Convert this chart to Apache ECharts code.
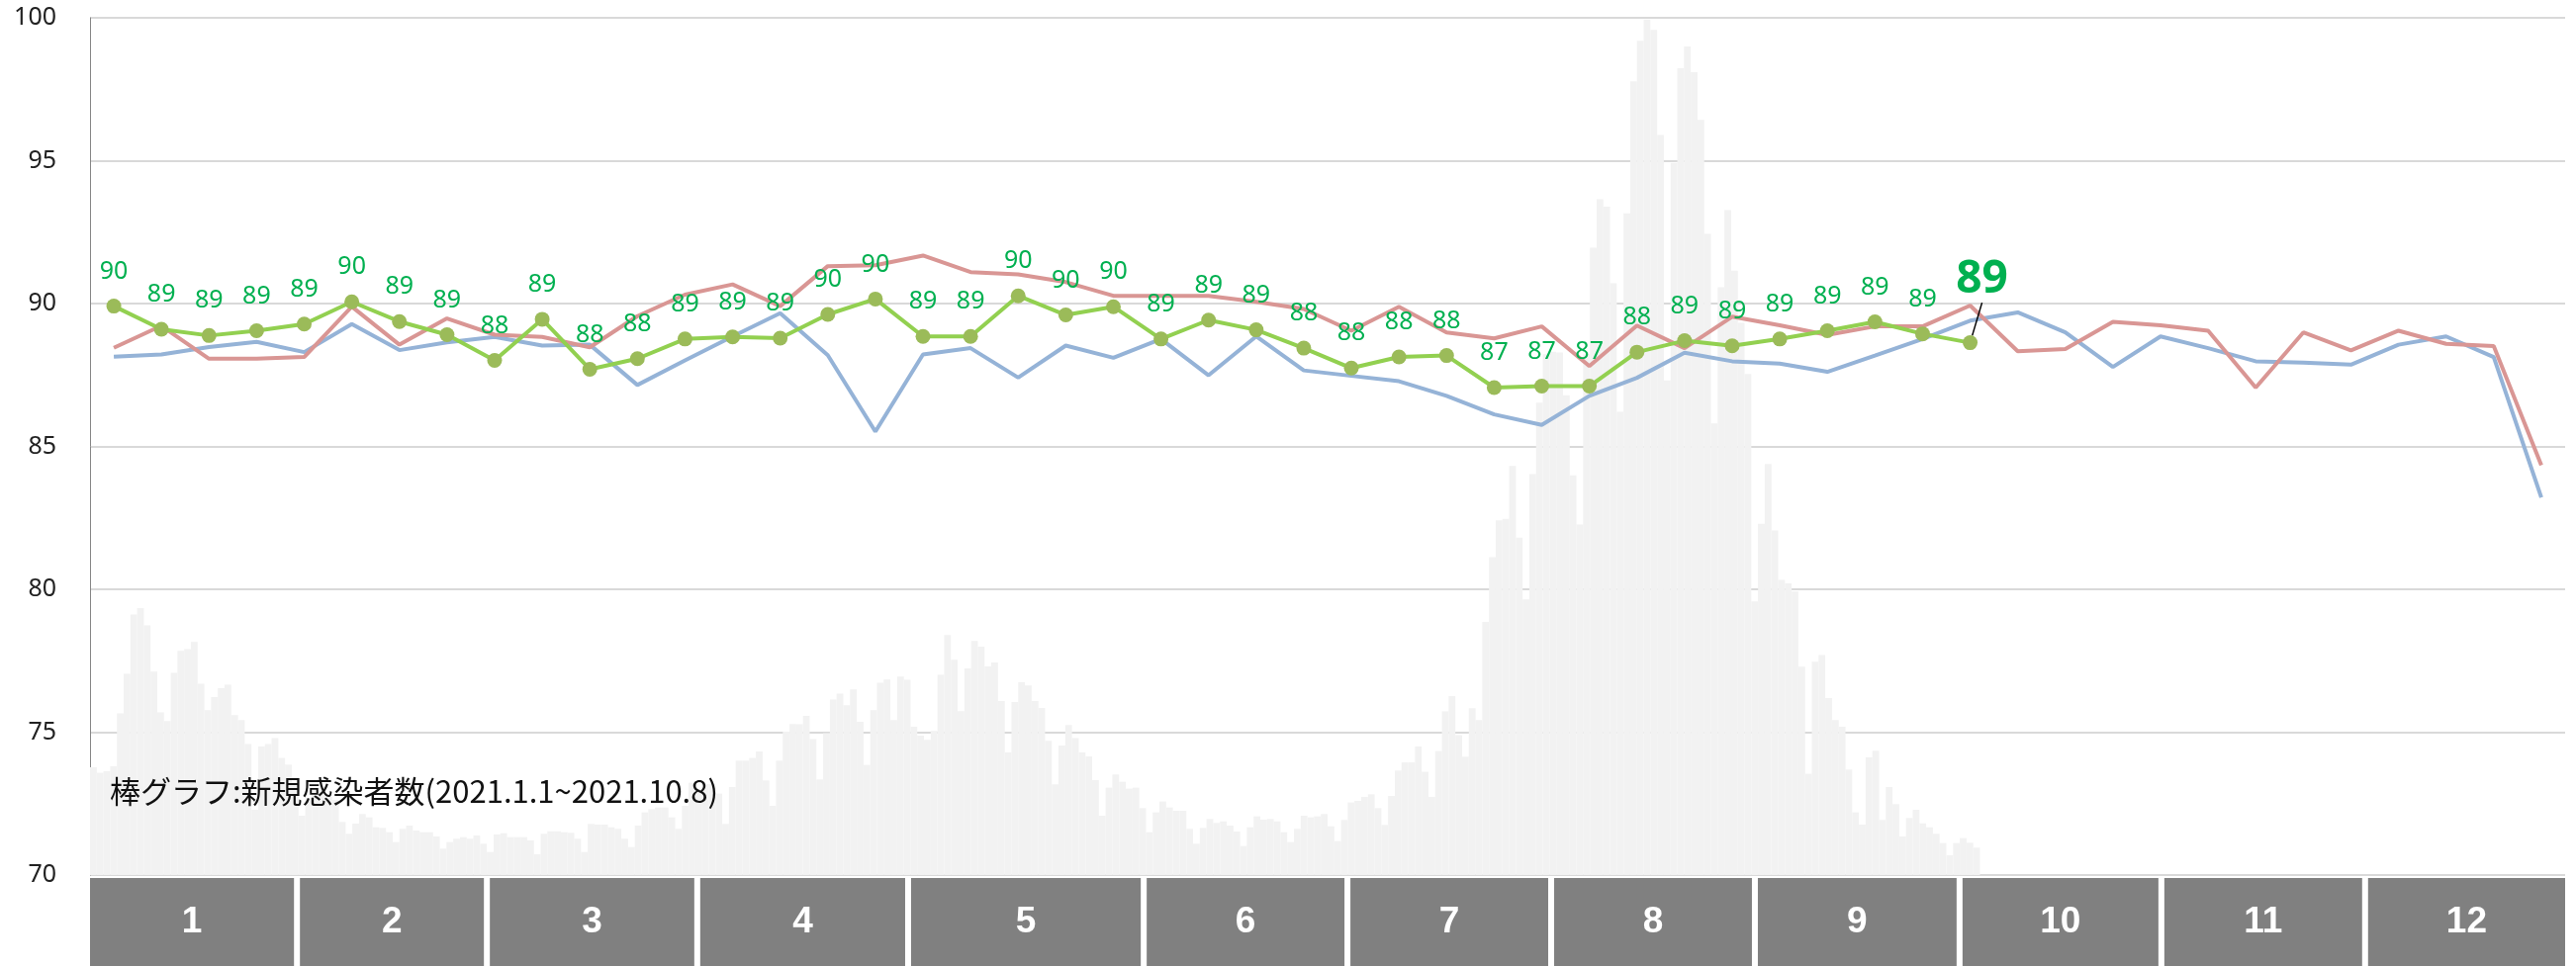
<!DOCTYPE html>
<html>
<head>
<meta charset="utf-8">
<title>chart</title>
<script src="https://cdn.jsdelivr.net/npm/echarts@6/dist/echarts.min.js"></script>
<style>
html, body { margin: 0; padding: 0; background: #fff; }
#chart { width: 2604px; height: 977px; }
</style>
</head>
<body>
<div id="chart"></div>
<script>
// daily new cases, 2021.1.1 - 2021.10.8
var dailyCases = [
  // Jan
  3270, 3100, 3150, 3300, 4900, 6100, 7900, 8100, 7570, 6170, 4930, 4670, 6130, 6800, 6850, 7070,
  5800, 5000, 5400, 5670, 5770, 4850, 4700, 3970, 1980, 3900, 3970, 4150, 3550, 3350, 2750,
  // Feb
  1800, 2320, 2630, 2580, 2370, 2280, 1610, 1250, 1560, 1850, 1750, 1450, 1430, 1300,
  1000, 1400, 1500, 1350, 1300, 1300, 1170, 800, 1000, 1100, 1150, 1100, 1200, 950,
  // Mar
  700, 1230, 1270, 1150, 1150, 1150, 1050, 630, 1250, 1330, 1330, 1300, 1280, 1100, 700, 1550,
  1530, 1530, 1450, 1400, 1100, 850, 1500, 1900, 2000, 2050, 2050, 1750, 1400, 2100, 2800,
  // Apr
  2610, 2760, 2760, 2470, 1550, 2670, 3470, 3470, 3550, 3750, 2870, 2100, 3470, 4350, 4580,
  4570, 4830, 4120, 2900, 4300, 5320, 5500, 5150, 5630, 4650, 3340, 5000, 5830, 5930, 4700,
  // May
  6020, 5920, 4500, 4230, 4100, 4370, 6070, 7280, 6530, 4970, 6270, 7100, 6930, 6330, 6450, 5280,
  3720, 5250, 5850, 5750, 5280, 5070, 4070, 2750, 3930, 4550, 4150, 3720, 3600, 2880, 1800,
  // Jun
  2650, 3050, 2830, 2620, 2650, 2030, 1300, 1900, 2230, 2050, 1950, 1950, 1400, 950, 1430,
  1700, 1580, 1630, 1500, 1320, 880, 1450, 1780, 1680, 1700, 1630, 1300, 1000, 1400, 1800,
  // Jul
  1750, 1780, 1850, 1480, 1030, 1670, 2200, 2250, 2370, 2450, 2030, 1520, 2400, 3170, 3420, 3420,
  3900, 3130, 2370, 3760, 4960, 5430, 4240, 3590, 5060, 4700, 7680, 9640, 10760, 10800, 12410,
  // Aug
  10230, 8360, 12160, 14330, 15800, 15870, 15850, 14550, 12120, 10630, 15800, 19030, 20500, 20270, 17950, 14050,
  20070, 24070, 25300, 25950, 25630, 22450, 15000, 21600, 24470, 25130, 24350, 22900, 19450, 13700, 17830,
  // Sep
  20170, 18330, 16750, 15200, 8300, 10650, 12470, 10450, 8950, 8850, 8600, 6320, 3070, 6470, 6670,
  5370, 4700, 4500, 3200, 1900, 1530, 3570, 3770, 1670, 2670, 2150, 1170, 1730, 1980, 1570,
  // Oct
  1450, 1250, 970, 600, 970, 1120, 980, 830
];

// weekly scores
var redScore = [
  88.45, 89.22, 88.07, 88.07, 88.13, 89.89, 88.56, 89.48, 88.91, 88.83, 88.47, 89.56, 90.31, 90.67, 89.91, 91.31, 91.34,
  91.68, 91.10, 91.02, 90.75, 90.27, 90.27, 90.27, 90.06, 89.81, 89.05, 89.89, 88.99, 88.78, 89.20, 87.81, 89.23, 88.44,
  89.54, 89.24, 88.90, 89.20, 89.20, 89.93, 88.33, 88.41, 89.36, 89.24, 89.05, 87.06, 88.99, 88.36, 89.05, 88.59, 88.51, 84.34
];
var blueScore = [
  88.14, 88.22, 88.48, 88.66, 88.30, 89.28, 88.37, 88.64, 88.83, 88.53, 88.56, 87.15, 88.01, 88.85, 89.66, 88.19, 85.52,
  88.22, 88.44, 87.41, 88.53, 88.10, 88.76, 87.49, 88.85, 87.66, 87.47, 87.28, 86.77, 86.12, 85.75, 86.77, 87.40, 88.28,
  87.98, 87.90, 87.61, 88.18, 88.76, 89.40, 89.69, 88.99, 87.78, 88.85, 88.44, 87.98, 87.93, 87.86, 88.56, 88.85, 88.13, 83.21
];
var greenScore = [
  89.91, 89.10, 88.88, 89.05, 89.28, 90.06, 89.37, 88.91, 88.01, 89.45, 87.70, 88.07, 88.76, 88.83, 88.79, 89.62, 90.16,
  88.85, 88.85, 90.27, 89.60, 89.89, 88.76, 89.42, 89.08, 88.44, 87.74, 88.13, 88.18, 87.06, 87.11, 87.11, 88.30, 88.70,
  88.52, 88.76, 89.05, 89.36, 88.94, 88.63
];

var monthLabels = ['1', '2', '3', '4', '5', '6', '7', '8', '9', '10', '11', '12'];
// where each month box starts, in weeks
var monthStartWeek = [0, 4.41, 8.4, 12.82, 17.25, 22.2, 26.48, 30.76, 35.04, 39.34, 43.58, 47.86];
var yTicks = { min: 70, max: 100, step: 5 };
var noteText = '棒グラフ:新規感染者数(2021.1.1~2021.10.8)';

var weekNames = [];
for (var w = 0; w < 52; w++) weekNames.push('W' + (w + 1));
var dayNames = [];
var d0 = new Date(2021, 0, 1);
for (var k = 0; k < 368; k++) {
  var dt = new Date(d0.getTime() + k * 86400000);
  dayNames.push((dt.getMonth() + 1) + '/' + dt.getDate());
}

var lastGreen = greenScore.length - 1;
var greenData = greenScore.map(function (v, i) {
  if (i !== lastGreen) return v;
  return {
    value: v,
    label: { fontSize: 46, fontWeight: 'bold' },
    labelLine: { show: true, lineStyle: { color: '#000', width: 1.5 } }
  };
});

var monthData = monthStartWeek.map(function (s, i) {
  var e = i < monthStartWeek.length - 1 ? monthStartWeek[i + 1] : 52;
  return [s, e, i];
});

var chart = echarts.init(document.getElementById('chart'));
chart.setOption({
  animation: false,
  backgroundColor: '#fff',
  textStyle: { fontFamily: '"Noto Sans", "Noto Sans CJK JP", sans-serif' },
  title: {
    text: noteText,
    left: 106,
    top: 780,
    textStyle: { fontSize: 31, fontWeight: 'normal', color: '#111', fontFamily: '"Noto Sans CJK JP", sans-serif' }
  },
  grid: [
    { left: 91, right: 11, top: 18, bottom: 92 },
    { left: 91, right: 11, top: 888, bottom: 0 }
  ],
  xAxis: [
    { type: 'category', gridIndex: 0, data: weekNames, show: false },
    { type: 'category', gridIndex: 0, data: dayNames, show: false },
    { type: 'value', gridIndex: 1, min: 0, max: 52, show: false }
  ],
  yAxis: [
    {
      type: 'value', gridIndex: 0, min: yTicks.min, max: yTicks.max, interval: yTicks.step,
      axisLine: { show: true, lineStyle: { color: '#868686', width: 1 } },
      axisTick: { show: false },
      axisLabel: { fontSize: 25, color: '#222', margin: 34 },
      splitLine: { lineStyle: { color: '#d9d9d9', width: 2 } }
    },
    { type: 'value', gridIndex: 0, min: 0, max: 26000, show: false, splitLine: { show: false } },
    { type: 'value', gridIndex: 1, min: 0, max: 1, show: false }
  ],
  series: [
    {
      type: 'bar', xAxisIndex: 1, yAxisIndex: 1, data: dailyCases,
      barCategoryGap: '0%', silent: true, z: 1,
      itemStyle: { color: '#f2f2f2' }
    },
    {
      type: 'line', xAxisIndex: 0, yAxisIndex: 0, data: blueScore,
      showSymbol: false, z: 3,
      lineStyle: { color: '#95b3d7', width: 4 }
    },
    {
      type: 'line', xAxisIndex: 0, yAxisIndex: 0, data: redScore,
      showSymbol: false, z: 4,
      lineStyle: { color: '#d99694', width: 4 }
    },
    {
      type: 'line', xAxisIndex: 0, yAxisIndex: 0, data: greenData,
      symbol: 'circle', symbolSize: 15, z: 5,
      itemStyle: { color: '#9bbb59' },
      lineStyle: { color: '#92d050', width: 4 },
      label: {
        show: true, position: 'top', distance: 15, color: '#00b050', fontSize: 25,
        formatter: function (p) { return Math.round(p.value); }
      },
      labelLayout: function (p) {
        if (p.dataIndex === lastGreen) return { dx: 12, dy: -18 };
        return {};
      }
    },
    {
      type: 'custom', xAxisIndex: 2, yAxisIndex: 2, data: monthData, silent: true,
      renderItem: function (params, api) {
        var i = api.value(2);
        var gap = i < monthLabels.length - 1 ? 6 : 0;
        var p0 = api.coord([api.value(0), 1]);
        var p1 = api.coord([api.value(1), 0]);
        var w = p1[0] - p0[0] - gap;
        return {
          type: 'group',
          children: [
            { type: 'rect', shape: { x: p0[0], y: p0[1], width: w, height: p1[1] - p0[1] }, style: { fill: '#808080' } },
            {
              type: 'text',
              style: {
                text: monthLabels[i], x: p0[0] + w / 2, y: (p0[1] + p1[1]) / 2,
                align: 'center', verticalAlign: 'middle', fill: '#fff',
                fontSize: 37, fontWeight: 'bold', fontFamily: '"Liberation Sans", Arial, sans-serif'
              }
            }
          ]
        };
      }
    }
  ]
});
</script>
</body>
</html>
